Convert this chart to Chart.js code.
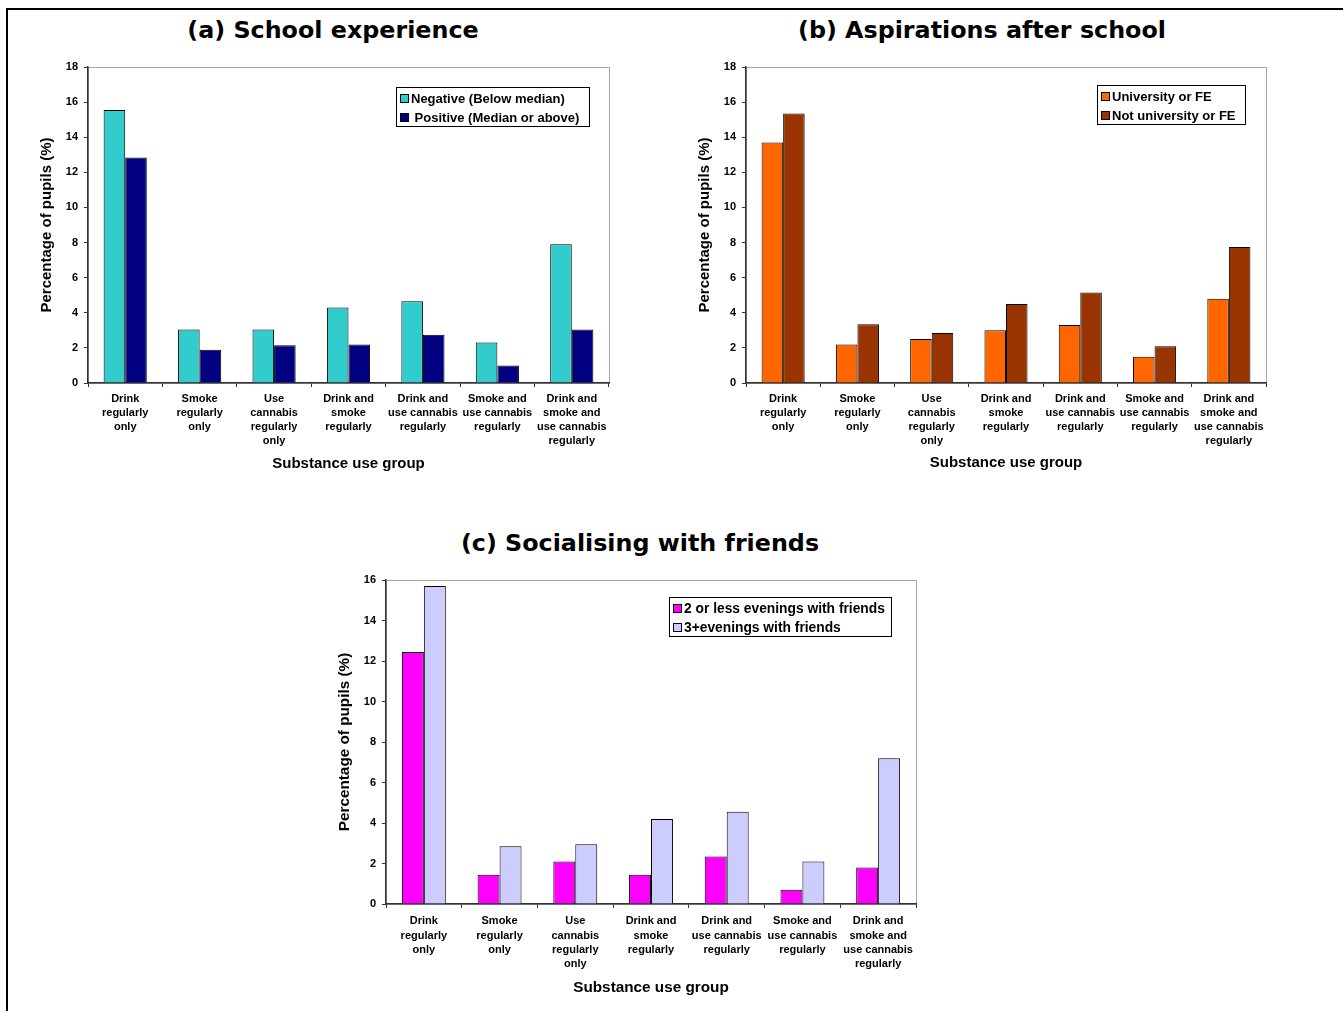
<!DOCTYPE html>
<html>
<head>
<meta charset="utf-8">
<title>Substance use groups by school experience, aspirations and socialising</title>
<script src="https://cdn.jsdelivr.net/npm/chart.js@4.4.0/dist/chart.umd.min.js"></script>
<style>
  html, body { margin: 0; padding: 0; background: #fff; }
  body { width: 1343px; height: 1011px; position: relative; overflow: hidden; }
  .frame { position: absolute; left: 6px; top: 8px; right: 0; bottom: 0;
           border-left: 2px solid #000; border-top: 2px solid #000; }
  .panel-title { position: absolute; font-family: "DejaVu Sans", sans-serif; font-weight: bold;
                 font-size: 23.8px; line-height: 28px; color: #000; white-space: nowrap;
                 transform: translateX(-50%); }
  canvas { position: absolute; }
</style>
</head>
<body>
<div class="frame"></div>

<div class="panel-title" style="left:333px; top:16px;">(a) School experience</div>
<div class="panel-title" style="left:982px; top:16px;">(b) Aspirations after school</div>
<div class="panel-title" style="left:640px; top:529px;">(c) Socialising with friends</div>

<canvas id="chartA" width="660" height="440" style="left:0px; top:51px;"></canvas>
<canvas id="chartB" width="683" height="440" style="left:660px; top:51px;"></canvas>
<canvas id="chartC" width="700" height="450" style="left:300px; top:561px;"></canvas>

<script>
// Substance use groups (x-axis categories, one array per line of the label)
const categories = [
  ["Drink", "regularly", "only"],
  ["Smoke", "regularly", "only"],
  ["Use", "cannabis", "regularly", "only"],
  ["Drink and", "smoke", "regularly"],
  ["Drink and", "use cannabis", "regularly"],
  ["Smoke and", "use cannabis", "regularly"],
  ["Drink and", "smoke and", "use cannabis", "regularly"]
];

// (a) School experience, % of pupils
const schoolNegative = [15.55, 3.05, 3.05, 4.3, 4.65, 2.3, 7.9];
const schoolPositive = [12.85, 1.9, 2.15, 2.2, 2.75, 1.0, 3.05];

// (b) Aspirations after school, % of pupils
const aspireUniversity = [13.7, 2.2, 2.5, 3.0, 3.3, 1.5, 4.8];
const aspireNotUniversity = [15.35, 3.35, 2.85, 4.5, 5.15, 2.1, 7.75];

// (c) Socialising with friends, % of pupils
const socialTwoOrLess = [12.45, 1.45, 2.1, 1.45, 2.35, 0.7, 1.8];
const socialThreePlus = [15.7, 2.85, 2.95, 4.2, 4.55, 2.1, 7.2];

const xAxisTitle = "Substance use group";
const yAxisTitle = "Percentage of pupils (%)";

const FONT = "'Liberation Sans', Arial, sans-serif";
Chart.defaults.font.family = FONT;
Chart.defaults.color = "#000";

// Grey frame on the top and right of the plot area (axes are drawn over it)
const plotFrame = {
  id: "plotFrame",
  beforeDraw(chart) {
    const { ctx, chartArea: a } = chart;
    ctx.save();
    ctx.strokeStyle = "#a6a6a6";
    ctx.lineWidth = 1;
    ctx.strokeRect(a.left + 0.5, a.top + 0.5, a.right - a.left, a.bottom - a.top);
    ctx.restore();
  }
};

// Boxed legend drawn inside the plot area, anchored to its top-right corner
const boxLegend = {
  id: "boxLegend",
  afterDraw(chart, args, opts) {
    const { ctx, chartArea: a } = chart;
    const sets = chart.data.datasets;
    ctx.save();
    ctx.font = "bold " + opts.fontSize + "px " + FONT;
    let maxW = 0;
    sets.forEach(d => { maxW = Math.max(maxW, ctx.measureText(d.label).width); });
    const rowH = 19;
    const w = Math.round(16 + maxW + opts.padRight);
    const h = rowH * sets.length + 1;
    const right = a.right - opts.right;
    const left = right - w;
    const top = a.top + opts.top;
    ctx.fillStyle = "#fff";
    ctx.fillRect(left, top, w, h);
    ctx.strokeStyle = "#000";
    ctx.lineWidth = 1;
    ctx.strokeRect(left + 0.5, top + 0.5, w, h);
    ctx.textBaseline = "middle";
    ctx.textAlign = "left";
    sets.forEach((d, i) => {
      const cy = top + 11 + i * rowH;
      ctx.fillStyle = d.backgroundColor;
      ctx.fillRect(left + 4, cy - 4, 8, 8);
      ctx.strokeStyle = "#000";
      ctx.strokeRect(left + 4.5, cy - 3.5, 8, 8);
      ctx.fillStyle = "#000";
      ctx.fillText(d.label, left + 15, cy + 1);
    });
    ctx.restore();
  }
};

function makeChart(id, cfg) {
  const yScale = {
    min: 0,
    max: cfg.yMax,
    ticks: {
      stepSize: 2,
      padding: 6,
      font: { size: 11, weight: "bold" },
      color: "#000"
    },
    grid: { display: true, drawOnChartArea: false, drawTicks: true, tickLength: 4, color: "#333", lineWidth: 1 },
    border: { display: true, color: "#333", width: 1.5 },
    title: {
      display: true,
      text: yAxisTitle,
      font: { size: cfg.titleSize, weight: "bold" },
      color: "#000",
      padding: 0
    },
    afterFit(scale) { scale.width = cfg.yAxisWidth; }
  };
  const xScale = {
    ticks: {
      autoSkip: false,
      maxRotation: 0,
      minRotation: 0,
      padding: cfg.xTickPad,
      font: { size: 11, weight: "bold", lineHeight: cfg.tickLineHeight },
      color: "#000"
    },
    grid: { display: true, offset: true, drawOnChartArea: false, drawTicks: true, tickLength: 4, color: "#333", lineWidth: 1 },
    border: { display: true, color: "#333", width: 1.5 },
    title: {
      display: true,
      text: xAxisTitle,
      font: { size: cfg.titleSize, weight: "bold" },
      color: "#000",
      padding: 0
    },
    afterFit(scale) { scale.height = cfg.xAxisHeight; }
  };
  return new Chart(document.getElementById(id), {
    type: "bar",
    data: {
      labels: categories,
      datasets: cfg.series.map(s => ({
        label: s.label,
        data: s.data,
        backgroundColor: s.color,
        borderColor: "#000",
        borderWidth: 1,
        categoryPercentage: 0.58,
        barPercentage: 1.0
      }))
    },
    options: {
      responsive: false,
      animation: false,
      events: [],
      layout: { padding: cfg.padding },
      scales: { x: xScale, y: yScale },
      plugins: {
        legend: { display: false },
        title: { display: false },
        tooltip: { enabled: false },
        boxLegend: cfg.legend
      }
    },
    plugins: [plotFrame, boxLegend]
  });
}

makeChart("chartA", {
  yMax: 18,
  yAxisWidth: 50,
  xAxisHeight: 90,
  xTickPad: 5,
  tickLineHeight: 1.28,
  titleSize: 15,
  padding: { left: 38, top: 16, right: 51, bottom: 18 },
  legend: { right: 20, top: 20, padRight: 9, fontSize: 13 },
  series: [
    { label: "Negative (Below median)", data: schoolNegative, color: "#33cccc" },
    { label: " Positive (Median or above)", data: schoolPositive, color: "#000080" }
  ]
});

makeChart("chartB", {
  yMax: 18,
  yAxisWidth: 50,
  xAxisHeight: 89,
  xTickPad: 5,
  tickLineHeight: 1.28,
  titleSize: 15,
  padding: { left: 36, top: 16, right: 77, bottom: 19 },
  legend: { right: 21, top: 18, padRight: 8, fontSize: 13 },
  series: [
    { label: "University or FE", data: aspireUniversity, color: "#ff6600" },
    { label: "Not university or FE", data: aspireNotUniversity, color: "#993300" }
  ]
});

makeChart("chartC", {
  yMax: 16,
  yAxisWidth: 50,
  xAxisHeight: 93,
  xTickPad: 6,
  tickLineHeight: 1.31,
  titleSize: 15.3,
  padding: { left: 36, top: 19, right: 84, bottom: 14 },
  legend: { right: 25, top: 17, padRight: 5, fontSize: 13.8 },
  series: [
    { label: "2 or less evenings with friends", data: socialTwoOrLess, color: "#ff00ff" },
    { label: "3+evenings with friends", data: socialThreePlus, color: "#ccccff" }
  ]
});
</script>
</body>
</html>
